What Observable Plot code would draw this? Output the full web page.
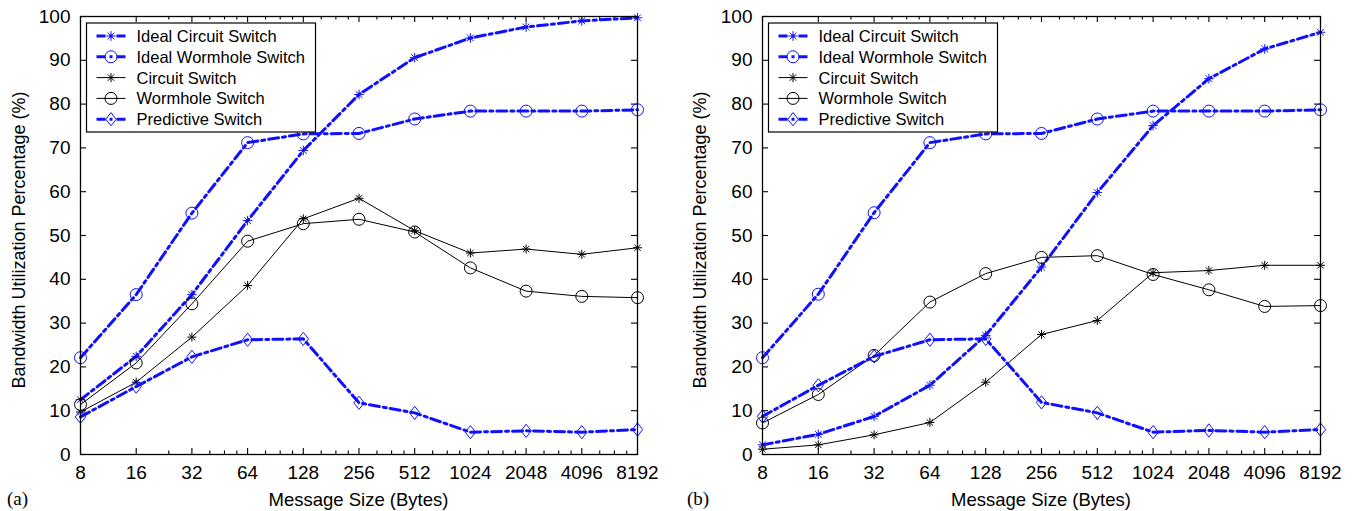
<!DOCTYPE html>
<html><head><meta charset="utf-8">
<script src="https://cdn.jsdelivr.net/npm/d3@7"></script>
<script src="https://cdn.jsdelivr.net/npm/@observablehq/plot@0.6"></script>
<style>
body{margin:0;background:#fff}
#row{display:flex;width:1353px;height:511px}
#row svg{display:block;flex:none}
</style></head><body><div id="row"></div>
<script>
// ---------- data ----------
const sizes = [8,16,32,64,128,256,512,1024,2048,4096,8192];
const minorTicks = [24,40,48,56,80,96,112,160,192,224,320,384,448,640,768,896,1280,1536,1792,2560,3072,3584,5120,6144,7168];
const yTicks = [0,10,20,30,40,50,60,70,80,90,100];
const seriesNames = ["Ideal Circuit Switch","Ideal Wormhole Switch","Circuit Switch","Wormhole Switch","Predictive Switch"];
const panelLabels = ["(a)","(b)"];
const xLabel = "Message Size (Bytes)";
const yLabel = "Bandwidth Utilization Percentage (%)";

const a_idealCircuit  = [12.5,22.4,36.5,53.4,69.4,82.2,90.6,95.1,97.6,99.0,99.7];
const a_idealWormhole = [22.1,36.5,55.1,71.2,73.2,73.3,76.6,78.4,78.4,78.4,78.7];
const a_circuit       = [9.7,16.5,26.8,38.6,53.8,58.5,51.1,46.0,46.9,45.7,47.2];
const a_wormhole      = [11.4,20.9,34.4,48.7,52.7,53.7,50.8,42.6,37.3,36.1,35.8];
const a_predictive    = [8.6,15.5,22.3,26.2,26.4,11.8,9.5,5.1,5.4,5.1,5.7];

const b_idealCircuit  = [2.2,4.6,8.7,15.8,27.2,42.8,59.8,75.1,85.8,92.6,96.4];
const b_idealWormhole = [22.1,36.6,55.2,71.2,73.2,73.3,76.6,78.4,78.4,78.4,78.7];
const b_circuit       = [1.2,2.2,4.5,7.3,16.5,27.4,30.6,41.5,42.0,43.2,43.2];
const b_wormhole      = [7.2,13.7,22.6,34.8,41.3,45.0,45.4,41.1,37.6,33.8,34.0];
const b_predictive    = [8.7,15.8,22.4,26.2,26.4,11.9,9.5,5.1,5.5,5.1,5.7];

// ---------- styles ----------
const BLUE = "#1010ff";
const asterisk = {draw(ctx, size){const r=Math.sqrt(size/Math.PI), d=r*Math.SQRT1_2;
  ctx.moveTo(-r,0);ctx.lineTo(r,0);ctx.moveTo(0,-r);ctx.lineTo(0,r);
  ctx.moveTo(-d,-d);ctx.lineTo(d,d);ctx.moveTo(-d,d);ctx.lineTo(d,-d);}};
const ring = {draw(ctx,size){const r=Math.sqrt(size/Math.PI); ctx.moveTo(r,0); ctx.arc(0,0,r,0,2*Math.PI); ctx.closePath();}};
const diamond = {draw(ctx,size){const r=Math.sqrt(size/Math.PI);
  ctx.moveTo(0,-r*1.2);ctx.lineTo(r*0.95,0);ctx.lineTo(0,r*1.2);ctx.lineTo(-r*0.95,0);ctx.closePath();}};
const styles = [
  {stroke:BLUE, width:3, dash:"10,4,3,4", symbol:asterisk, r:4.8},
  {stroke:BLUE, width:3, dash:"10,4,3,4", symbol:ring, r:6},
  {stroke:"black", width:1, dash:null, symbol:asterisk, r:4.5},
  {stroke:"black", width:1, dash:null, symbol:ring, r:6},
  {stroke:BLUE, width:3, dash:"10,4,3,4", symbol:diamond, r:5.5}
];
const FONT = "'Liberation Sans', Arial, Helvetica, sans-serif";

function panel(values, label, width, marginLeft, marginRight, yLabelX, panelLabelX){
  const marginTop = 16, marginBottom = 57, height = 511;
  const innerH = height - marginTop - marginBottom, innerW = width - marginLeft - marginRight;
  const tick = (ticks, len, side) => side === "bottom" || side === "top"
    ? Plot.ruleX(ticks, {x: d=>d, stroke:"black", strokeWidth:1.1, [side === "bottom" ? "insetTop" : "insetBottom"]: innerH - len})
    : Plot.ruleY(ticks, {y: d=>d, stroke:"black", strokeWidth:1.1, [side === "left" ? "insetRight" : "insetLeft"]: innerW - len});
  const dataMarks = [];
  values.forEach((vals, s) => {
    const st = styles[s];
    const tbl = sizes.map((x,i)=>({x, y: vals[i]}));
    dataMarks.push(Plot.line(tbl,{x:"x",y:"y",stroke:st.stroke,strokeWidth:st.width,strokeDasharray:st.dash}));
    dataMarks.push(Plot.dot(tbl,{x:"x",y:"y",symbol:st.symbol,r:st.r,stroke:st.stroke,fill:"none",strokeWidth:1}));
  });
  const chart = Plot.plot({
    width, height, marginLeft, marginRight, marginTop, marginBottom,
    style:{fontFamily:FONT, fontSize:"19px", color:"black", background:"white", overflow:"visible"},
    x:{type:"log", base:2, domain:[8,8192]},
    y:{domain:[0,100]},
    marks:[
      Plot.axisX({anchor:"bottom", ticks:sizes, tickSize:0, tickPadding:11, tickFormat:d3.format("d"), label:null, fontSize:19}),
      Plot.axisY({anchor:"left", ticks:yTicks, tickSize:0, tickPadding:10, label:null, fontSize:19}),
      tick(sizes, 6, "bottom"), tick(sizes, 6, "top"),
      tick(minorTicks, 3.5, "bottom"), tick(minorTicks, 3.5, "top"),
      tick(yTicks, 6, "left"), tick(yTicks, 6, "right"),
      ...dataMarks,
      Plot.frame({stroke:"black", strokeWidth:1.3})
    ]
  });
  const svg = d3.select(chart);
  // axis labels
  svg.append("text").attr("x", marginLeft + innerW/2).attr("y", 506)
    .attr("text-anchor","middle").attr("font-family",FONT).attr("font-size",18.5).attr("fill","black").text(xLabel);
  svg.append("text").attr("transform",`translate(${yLabelX},240) rotate(-90)`)
    .attr("text-anchor","middle").attr("font-family",FONT).attr("font-size",18).attr("fill","black").text(yLabel);
  svg.append("text").attr("x", panelLabelX).attr("y", 505).attr("text-anchor","start")
    .attr("font-family","'Liberation Serif','Times New Roman',serif").attr("font-size",19).attr("fill","black").text(label);
  // legend
  const lx = marginLeft + 6.5, ly = 23;
  const g = svg.append("g");
  g.append("rect").attr("x",lx).attr("y",ly).attr("width",229).attr("height",109)
    .attr("fill","white").attr("stroke","black").attr("stroke-width",1.2);
  seriesNames.forEach((name,i)=>{
    const st = styles[i];
    const cy = ly + 13 + i*20.8;
    g.append("line").attr("x1",lx+10).attr("x2",lx+39).attr("y1",cy).attr("y2",cy)
      .attr("stroke",st.stroke).attr("stroke-width",st.width).attr("stroke-dasharray", st.dash ? "9,4,3,4" : null);
    g.append("path").attr("transform",`translate(${lx+24.5},${cy})`)
      .attr("d", d3.symbol(st.symbol, st.r*st.r*Math.PI)())
      .attr("fill","none").attr("stroke",st.stroke).attr("stroke-width",1);
    g.append("text").attr("x",lx+50).attr("y",cy).attr("dy","0.36em").attr("text-anchor","start")
      .attr("font-family",FONT).attr("font-size",16.5).attr("fill","black").text(name);
  });
  return chart;
}

const row = document.getElementById("row");
row.appendChild(panel([a_idealCircuit,a_idealWormhole,a_circuit,a_wormhole,a_predictive], panelLabels[0], 676, 80, 39, 25, 7));
row.appendChild(panel([b_idealCircuit,b_idealWormhole,b_circuit,b_wormhole,b_predictive], panelLabels[1], 677, 86, 33, 30, 11));
</script></body></html>
